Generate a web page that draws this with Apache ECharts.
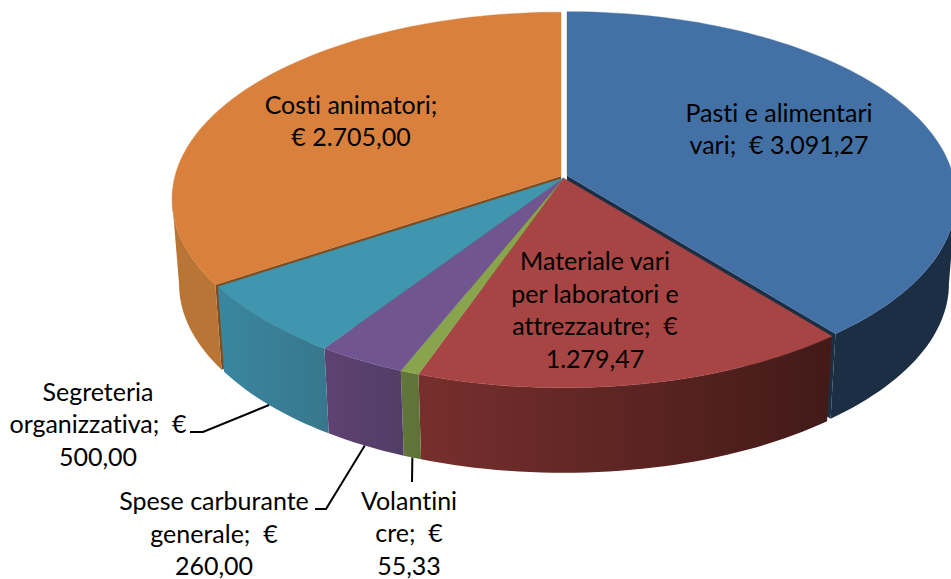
<!DOCTYPE html>
<html>
<head>
<meta charset="utf-8">
<title>Costi</title>
<script src="https://cdn.jsdelivr.net/npm/echarts@6/dist/echarts.min.js"></script>
<style>
  html, body { margin: 0; padding: 0; background: #fff; }
  #chart { width: 951px; height: 579px; }
  #chart text { font-variant-ligatures: none !important; }
</style>
</head>
<body>
<div id="chart"></div>
<script>
// slices in clockwise order from 12 o'clock
const categories = ['Pasti e alimentari vari', 'Materiale vari per laboratori e attrezzautre', 'Volantini cre', 'Spese carburante generale', 'Segreteria organizzativa', 'Costi animatori']
const values = [3091.27, 1279.47, 55.33, 260.00, 500.00, 2705.00]
const labelTexts = [
  'Pasti e alimentari\nvari;  € 3.091,27',
  'Materiale vari\nper laboratori e\nattrezzautre;  €\n1.279,47',
  'Volantini\ncre;  €\n55,33',
  'Spese carburante\ngenerale;  €\n260,00',
  'Segreteria\norganizzativa;  €\n500,00',
  'Costi animatori;\n€ 2.705,00'
]

const topColors = ['#4371a6', '#a64543', '#88a54e', '#705590', '#3f96ae', '#d9803c']
const wallStops = [
  ['#1c2e43', '#1c2e43'],
  ['#772f2d', '#421a18'],
  ['#61763a', '#5f7338'],
  ['#5f4272', '#523d66'],
  ['#3a86a0', '#37778c'],
  ['#b97535', '#b97535']
]
const cutColors = ['#1c2e43', null, null, null, null, '#7d4c20']
const shifts = [[3.5, -2.5], [0, 0], [0, 0], [0, 0], [0, 0], [-2.5, -2]]
// label centre, and the elbow of the leader line if it has one
const labelPos = [[779, 128], [595, 309], [409, 532], [214, 532.5], [98, 423], [351, 120]]
const leaderEnds = [null, null, [[412, 482]], [[326, 509], [315, 509]], [[203, 432], [190, 432]], null]

const cx = 563.5
const cy = 178
const rx = 386
const ry = 184
const persp = 0.123
const depth = 85
const bottomScale = 0.982
const fontFamily = 'Lato, Carlito, "Open Sans", sans-serif'

const total = values.reduce((a, b) => a + b, 0)
let running = 0
const sliceData = values.map((v, i) => {
  const start = running / total * 360
  running += v
  return [i, start, running / total * 360]
})
// exploded slices go first so the others can sit over their cut faces
const wallOrder = [0, 5, 1, 2, 3, 4]
// the side wall is only seen between the two widest points of the rim
const sideLimit = Math.acos(-persp) * 180 / Math.PI

function rim(deg, shift, bottom) {
  const t = deg * Math.PI / 180
  const u = Math.sin(t)
  const v = -Math.cos(t)
  const w = 1 - persp * v
  const s = bottom ? bottomScale : 1
  return [
    cx + shift[0] + s * rx * u / w,
    cy + shift[1] + ry * v / w + (bottom ? depth : 0)
  ]
}

function arc(start, end, shift, bottom) {
  let pts = []
  const n = Math.max(2, Math.ceil((end - start) / 1.5))
  for (let i = 0; i <= n; i++) {
    pts.push(rim(start + (end - start) * i / n, shift, bottom))
  }
  return pts
}

function renderWall(params, api) {
  const i = api.value(0)
  const start = Math.max(api.value(1), sideLimit)
  const end = Math.min(api.value(2), 360 - sideLimit)
  const shift = shifts[i]
  const children = []
  if (cutColors[i]) {
    const edge = i === 0 ? end : start
    children.push({
      type: 'polygon',
      shape: { points: [
        [cx + shift[0], cy + shift[1]],
        rim(edge, shift, false),
        rim(edge, shift, true),
        [cx + shift[0], cy + shift[1] + depth]
      ] },
      style: { fill: cutColors[i] }
    })
  }
  children.push({
    type: 'polygon',
    shape: { points: arc(start, end, shift, false).concat(arc(start, end, shift, true).reverse()) },
    style: {
      fill: new echarts.graphic.LinearGradient(0, 0, 1, 0, [
        { offset: 0, color: wallStops[i][0] },
        { offset: 1, color: wallStops[i][1] }
      ])
    }
  })
  return { type: 'group', children }
}

function renderTop(params, api) {
  const i = api.value(0)
  const shift = shifts[i]
  return {
    type: 'polygon',
    shape: { points: [[cx + shift[0], cy + shift[1]]].concat(arc(api.value(1), api.value(2), shift, false)) },
    style: { fill: topColors[i], stroke: topColors[i], lineWidth: 0.4 }
  }
}

function renderLabel(params, api) {
  const i = api.value(0)
  const children = [{
    type: 'text',
    style: {
      text: labelTexts[i],
      x: labelPos[i][0],
      y: labelPos[i][1],
      align: 'center',
      verticalAlign: 'middle',
      font: '25px ' + fontFamily,
      lineHeight: 32.5,
      fill: '#000'
    }
  }]
  if (leaderEnds[i]) {
    const mid = (api.value(1) + api.value(2)) / 2
    children.push({
      type: 'polyline',
      shape: { points: [rim(mid, shifts[i], true)].concat(leaderEnds[i]) },
      style: { stroke: '#000', lineWidth: 2, fill: null }
    })
  }
  return { type: 'group', children }
}

const myChart = echarts.init(document.getElementById('chart'), null, { renderer: 'svg' })
myChart.setOption({
  animation: false,
  backgroundColor: '#fff',
  series: [
    { type: 'custom', name: 'sides', coordinateSystem: 'none', z: 1, silent: true, renderItem: renderWall, data: wallOrder.map(i => sliceData[i]) },
    { type: 'custom', name: 'tops', coordinateSystem: 'none', z: 2, silent: true, renderItem: renderTop, data: sliceData },
    { type: 'custom', name: 'labels', coordinateSystem: 'none', z: 3, silent: true, renderItem: renderLabel, data: sliceData }
  ]
})
</script>
</body>
</html>
